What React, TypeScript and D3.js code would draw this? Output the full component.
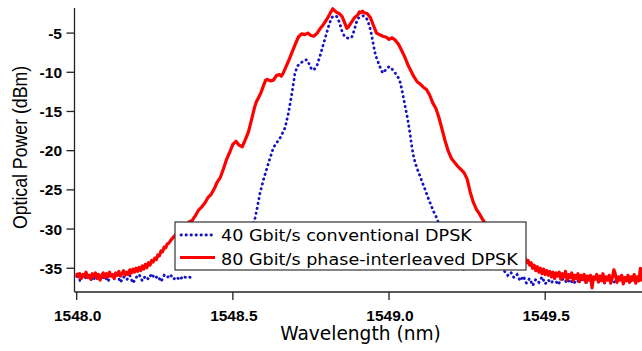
import React from "react";
import * as d3 from "d3";

// ---- data (wavelength nm, optical power dBm) ----
const xTickValues = [1548.0, 1548.5, 1549.0, 1549.5];
const xTickLabels = ["1548.0", "1548.5", "1549.0", "1549.5"];
const yTickValues = [-35, -30, -25, -20, -15, -10, -5];
const yTickLabels = ["-35", "-30", "-25", "-20", "-15", "-10", "-5"];

const legendLabels = ["40 Gbit/s conventional DPSK", "80 Gbit/s phase-interleaved DPSK"];

// 40 Gbit/s conventional DPSK (null = no data)
const series40G: [number, number | null][] = [
  [1548.00, -36.0], [1548.01, -36.5], [1548.02, -35.8], [1548.03, -36.3], [1548.04, -35.9],
  [1548.05, -36.6], [1548.06, -36.1], [1548.07, -35.7], [1548.08, -36.4], [1548.09, -36.0],
  [1548.10, -36.7], [1548.11, -35.9], [1548.12, -36.3], [1548.13, -35.8], [1548.14, -36.8],
  [1548.15, -36.1], [1548.16, -36.5], [1548.17, -35.9], [1548.18, -36.9], [1548.19, -36.2],
  [1548.20, -35.8], [1548.21, -36.6], [1548.22, -36.0], [1548.23, -36.4], [1548.24, -35.7],
  [1548.25, -36.3], [1548.26, -36.0], [1548.27, -36.7], [1548.28, -35.9], [1548.29, -36.2],
  [1548.30, -35.8], [1548.31, -36.4], [1548.32, -36.1], [1548.33, -36.5], [1548.34, -36.0],
  [1548.35, -36.2], [1548.36, -36.1], [1548.37, -36.3],
  [1548.38, null],
  [1548.52, -34.0], [1548.54, -32.0], [1548.56, -30.0], [1548.571, -28.6], [1548.577, -27.5],
  [1548.587, -25.4], [1548.598, -23.7], [1548.614, -21.6], [1548.630, -19.6], [1548.640, -19.0],
  [1548.651, -18.4], [1548.667, -17.1], [1548.678, -15.2], [1548.689, -12.7], [1548.699, -10.1],
  [1548.707, -9.2], [1548.715, -8.9], [1548.727, -8.5], [1548.737, -8.4], [1548.745, -9.0],
  [1548.753, -9.7], [1548.761, -9.6], [1548.769, -9.2], [1548.777, -8.2], [1548.785, -7.1],
  [1548.793, -6.0], [1548.801, -4.9], [1548.809, -3.8], [1548.817, -3.0], [1548.825, -2.8],
  [1548.833, -2.9], [1548.841, -3.6], [1548.849, -4.7], [1548.857, -5.4], [1548.865, -5.6],
  [1548.873, -5.7], [1548.881, -5.5], [1548.889, -4.6], [1548.896, -3.6], [1548.902, -3.1],
  [1548.910, -2.9], [1548.917, -2.8], [1548.923, -2.9], [1548.929, -3.2], [1548.934, -3.7],
  [1548.940, -4.5], [1548.945, -5.4], [1548.950, -6.5], [1548.955, -7.5], [1548.961, -8.3],
  [1548.966, -8.8], [1548.973, -9.5], [1548.980, -10.1], [1548.987, -9.8], [1548.993, -9.5],
  [1549.000, -9.3], [1549.004, -9.3], [1549.012, -9.7], [1549.020, -10.1], [1549.030, -10.7],
  [1549.036, -11.3], [1549.041, -12.2], [1549.046, -13.2], [1549.052, -14.4], [1549.057, -15.4],
  [1549.062, -16.5], [1549.068, -18.0], [1549.073, -19.5], [1549.078, -20.6], [1549.084, -21.6],
  [1549.092, -22.5], [1549.100, -23.3], [1549.108, -24.2], [1549.116, -25.0], [1549.124, -25.9],
  [1549.132, -26.7], [1549.142, -27.7], [1549.153, -28.6], [1549.17, -30.5], [1549.19, -32.5],
  [1549.22, -34.5], [1549.25, -35.5],
  [1549.28, null],
  [1549.37, -35.4], [1549.38, -35.9], [1549.39, -35.5], [1549.40, -36.2], [1549.41, -35.8],
  [1549.42, -36.6], [1549.43, -36.0], [1549.44, -36.9], [1549.45, -36.3], [1549.46, -37.2],
  [1549.47, -36.4], [1549.48, -36.8], [1549.49, -36.1], [1549.50, -37.0], [1549.51, -36.5],
  [1549.52, -36.9], [1549.53, -36.2], [1549.54, -37.1], [1549.55, -36.6], [1549.56, -36.3],
  [1549.57, -36.9], [1549.58, -36.4], [1549.59, -37.0], [1549.60, -36.5], [1549.61, -36.8],
  [1549.62, -36.2], [1549.63, -36.9], [1549.64, -36.4], [1549.65, -36.7], [1549.66, -36.1],
  [1549.67, -36.8], [1549.68, -36.3], [1549.69, -36.9], [1549.70, -36.5], [1549.71, -36.2],
  [1549.72, -36.8], [1549.73, -36.4], [1549.74, -36.7], [1549.75, -36.1], [1549.76, -36.6],
  [1549.77, -36.3], [1549.78, -36.8], [1549.79, -36.2], [1549.80, -36.5], [1549.81, -36.3],
];

// 80 Gbit/s phase-interleaved DPSK
const series80G: [number, number][] = [
  [1548.000, -35.6], [1548.005, -36.1], [1548.010, -35.7], [1548.015, -36.3], [1548.020, -35.8],
  [1548.025, -36.0], [1548.030, -35.5], [1548.035, -36.2], [1548.040, -35.9], [1548.045, -36.4],
  [1548.050, -35.7], [1548.055, -36.0], [1548.060, -35.6], [1548.065, -36.3], [1548.070, -35.8],
  [1548.075, -36.5], [1548.080, -35.9], [1548.085, -35.6], [1548.090, -36.2], [1548.095, -35.7],
  [1548.100, -36.1], [1548.105, -35.5], [1548.110, -36.0], [1548.115, -35.8], [1548.120, -36.3],
  [1548.125, -35.6], [1548.130, -35.9], [1548.135, -35.4], [1548.140, -36.0], [1548.145, -35.7],
  [1548.150, -35.3], [1548.155, -35.9], [1548.160, -35.5], [1548.165, -35.8], [1548.170, -35.2],
  [1548.175, -35.6], [1548.180, -35.1], [1548.185, -35.5], [1548.190, -35.0], [1548.195, -35.4],
  [1548.200, -34.9], [1548.205, -35.3], [1548.210, -34.7], [1548.215, -35.1], [1548.220, -34.5],
  [1548.225, -34.9], [1548.230, -34.3], [1548.235, -34.6], [1548.240, -34.0], [1548.245, -34.2],
  [1548.250, -33.7], [1548.255, -33.9], [1548.260, -33.3], [1548.265, -33.4], [1548.270, -32.8],
  [1548.275, -32.9], [1548.280, -32.3], [1548.285, -32.4], [1548.290, -31.9], [1548.295, -31.8],
  [1548.300, -31.5],
  [1548.31, -31.0], [1548.32, -30.6], [1548.33, -30.3], [1548.34, -29.8], [1548.35, -29.5],
  [1548.36, -29.1], [1548.37, -28.9], [1548.38, -28.3], [1548.39, -27.6], [1548.40, -27.2],
  [1548.41, -26.7], [1548.42, -26.0], [1548.43, -25.6], [1548.44, -24.9], [1548.45, -24.0],
  [1548.46, -23.4], [1548.47, -22.3], [1548.48, -21.1], [1548.49, -20.2], [1548.50, -19.2],
  [1548.51, -18.8], [1548.52, -19.3], [1548.53, -19.5], [1548.54, -18.6], [1548.55, -17.6],
  [1548.56, -16.0], [1548.57, -14.4], [1548.575, -13.8], [1548.58, -13.4], [1548.59, -12.6],
  [1548.60, -11.5], [1548.605, -11.0], [1548.61, -10.9], [1548.62, -11.1], [1548.63, -11.0],
  [1548.64, -10.4], [1548.65, -10.3], [1548.655, -10.5], [1548.66, -10.2], [1548.67, -9.3],
  [1548.68, -8.4], [1548.69, -7.4], [1548.70, -6.4], [1548.71, -5.5], [1548.72, -5.1],
  [1548.73, -5.2], [1548.74, -5.0], [1548.75, -5.3], [1548.76, -5.4], [1548.77, -5.0],
  [1548.78, -4.4], [1548.79, -3.9], [1548.80, -3.3], [1548.81, -2.6], [1548.82, -1.9],
  [1548.825, -2.1], [1548.83, -2.3], [1548.84, -2.5], [1548.85, -2.9], [1548.86, -3.9],
  [1548.865, -4.4], [1548.87, -4.2], [1548.88, -3.6], [1548.89, -3.0], [1548.90, -2.7],
  [1548.905, -2.3], [1548.91, -2.4], [1548.915, -2.2], [1548.92, -2.4], [1548.93, -2.5],
  [1548.94, -3.0], [1548.95, -4.0], [1548.96, -5.0], [1548.97, -5.2], [1548.98, -5.4],
  [1548.99, -5.5], [1549.00, -5.8], [1549.01, -5.6], [1549.02, -5.9], [1549.03, -6.4],
  [1549.04, -7.2], [1549.05, -8.0], [1549.06, -9.0], [1549.07, -9.8], [1549.08, -10.6],
  [1549.09, -11.2], [1549.10, -11.5], [1549.11, -11.9], [1549.12, -12.2], [1549.13, -12.9],
  [1549.14, -13.9], [1549.15, -14.6], [1549.16, -15.8], [1549.17, -17.3], [1549.18, -18.8],
  [1549.19, -20.1], [1549.20, -21.0], [1549.21, -21.5], [1549.22, -22.0], [1549.23, -22.4],
  [1549.24, -22.8], [1549.25, -23.6], [1549.26, -25.3], [1549.27, -26.6], [1549.28, -27.5],
  [1549.29, -28.1], [1549.30, -28.8], [1549.31, -29.3], [1549.32, -29.9], [1549.33, -30.4],
  [1549.34, -30.9], [1549.35, -31.5], [1549.36, -31.9], [1549.37, -32.4], [1549.38, -32.8],
  [1549.39, -33.1], [1549.40, -33.4],
  [1549.405, -33.0], [1549.410, -33.5], [1549.415, -33.1], [1549.420, -33.7], [1549.425, -33.3],
  [1549.430, -33.9], [1549.435, -33.6], [1549.440, -34.3], [1549.445, -34.0], [1549.450, -34.6],
  [1549.455, -34.3], [1549.460, -35.0], [1549.465, -34.6], [1549.470, -35.3], [1549.475, -34.8],
  [1549.480, -35.5], [1549.485, -35.0], [1549.490, -35.7], [1549.495, -35.1], [1549.500, -35.8],
  [1549.505, -35.3], [1549.510, -35.9], [1549.515, -35.4], [1549.520, -36.1], [1549.525, -35.5],
  [1549.530, -36.3], [1549.535, -35.6], [1549.540, -36.0], [1549.545, -35.5], [1549.550, -36.4],
  [1549.555, -35.7], [1549.560, -36.1], [1549.565, -35.4], [1549.570, -36.5], [1549.575, -35.8],
  [1549.580, -36.2], [1549.585, -35.6], [1549.590, -36.6], [1549.595, -35.9], [1549.600, -36.3],
  [1549.605, -35.7], [1549.610, -36.7], [1549.615, -35.9], [1549.620, -36.4], [1549.625, -35.8],
  [1549.630, -36.8], [1549.635, -36.0], [1549.640, -36.5], [1549.645, -35.9], [1549.650, -37.5],
  [1549.655, -36.1], [1549.660, -36.4], [1549.665, -35.8], [1549.670, -36.7], [1549.675, -36.0],
  [1549.680, -36.6], [1549.685, -35.7], [1549.690, -36.8], [1549.695, -36.1], [1549.700, -36.5],
  [1549.705, -35.9], [1549.710, -36.9], [1549.715, -36.2], [1549.720, -35.2], [1549.725, -35.8],
  [1549.730, -36.8], [1549.735, -36.1], [1549.740, -36.5], [1549.745, -35.9], [1549.750, -37.0],
  [1549.755, -36.2], [1549.760, -36.6], [1549.765, -35.9], [1549.770, -36.8], [1549.775, -36.1],
  [1549.780, -36.5], [1549.785, -35.8], [1549.790, -36.9], [1549.795, -36.1], [1549.800, -36.6],
  [1549.805, -35.0], [1549.810, -36.7],
];

const W = 642;
const H = 351;
const PLOT = { left: 74.5, right: 642, top: 8, bottom: 292 };
const BLUE = "#1414c4";
const RED = "#ff0000";
const AXIS = "#222";

export default function App() {
  const x = d3.scaleLinear().domain([1547.993, 1549.81]).range([PLOT.left, PLOT.right]);
  const y = d3.scaleLinear().domain([-38.03, -1.8]).range([PLOT.bottom, PLOT.top]);

  const blueLine = d3
    .line<[number, number | null]>()
    .defined((d) => d[1] !== null)
    .x((d) => x(d[0]))
    .y((d) => y(d[1] as number));
  const redLine = d3
    .line<[number, number]>()
    .x((d) => x(d[0]))
    .y((d) => y(d[1]));

  const tickFont = { fontFamily: "'Liberation Sans', Arial, sans-serif", fontWeight: 700, fontSize: 15.5 };

  return (
    <svg
      width={W}
      height={H}
      style={{ position: "absolute", left: 0, top: 0, background: "#fff" }}
    >
      <defs>
        <clipPath id="plotclip">
          <rect x={PLOT.left} y={0} width={PLOT.right - PLOT.left} height={PLOT.bottom} />
        </clipPath>
      </defs>
      <rect x={0} y={0} width={W} height={H} fill="#fff" />

      <g clipPath="url(#plotclip)">
        <path
          d={blueLine(series40G) || ""}
          fill="none"
          stroke={BLUE}
          strokeWidth={2.8}
          strokeDasharray="0.4 4.6"
          strokeLinecap="round"
        />
        <path
          d={redLine(series80G) || ""}
          fill="none"
          stroke={RED}
          strokeWidth={3.2}
          strokeLinejoin="round"
        />
      </g>

      {/* axes */}
      <line x1={PLOT.left} x2={PLOT.left} y1={PLOT.top} y2={PLOT.bottom} stroke={AXIS} strokeWidth={1.3} />
      <line x1={PLOT.left} x2={PLOT.right} y1={PLOT.bottom} y2={PLOT.bottom} stroke={AXIS} strokeWidth={1.3} />

      {yTickValues.map((v, i) => (
        <g key={"yt" + i}>
          <line x1={PLOT.left - 8} x2={PLOT.left} y1={y(v)} y2={y(v)} stroke={AXIS} strokeWidth={1.3} />
          <text x={62} y={y(v) + 5.5} textAnchor="end" {...tickFont} fill="#000">
            {yTickLabels[i]}
          </text>
        </g>
      ))}

      {xTickValues.map((v, i) => (
        <g key={"xt" + i}>
          <line x1={x(v)} x2={x(v)} y1={PLOT.bottom} y2={PLOT.bottom + 8} stroke={AXIS} strokeWidth={1.3} />
          <text x={x(v) + 1} y={320.8} textAnchor="middle" {...tickFont} fill="#000">
            {xTickLabels[i]}
          </text>
        </g>
      ))}

      {/* axis titles */}
      <text
        x={360.5}
        y={339.5}
        textAnchor="middle"
        fontFamily="'DejaVu Sans', sans-serif"
        fontSize={18.6}
        fill="#000"
      >
        Wavelength (nm)
      </text>
      <g transform="translate(27.3,147.5) rotate(-90) scale(1,1.13)">
        <text
          x={0}
          y={0}
          textAnchor="middle"
          fontFamily="'Liberation Sans', Arial, sans-serif"
          fontSize={17.7}
          fill="#000"
        >
          Optical Power (dBm)
        </text>
      </g>

      {/* legend */}
      <g>
        <rect x={175} y={222} width={351} height={48} fill="#fff" stroke="#333" strokeWidth={1.2} />
        <line x1={181} x2={215} y1={235} y2={235} stroke={BLUE} strokeWidth={2.8} strokeDasharray="0.4 4.6" strokeLinecap="round" />
        <line x1={180} x2={215} y1={257.5} y2={257.5} stroke={RED} strokeWidth={3.2} />
        <g transform="translate(221,240.8) scale(1.1,1)">
          <text x={0} y={0} fontFamily="'DejaVu Sans', sans-serif" fontSize={16} fill="#000">
            {legendLabels[0]}
          </text>
        </g>
        <g transform="translate(221,264.5) scale(1.1,1)">
          <text x={0} y={0} fontFamily="'DejaVu Sans', sans-serif" fontSize={16} fill="#000">
            {legendLabels[1]}
          </text>
        </g>
      </g>
    </svg>
  );
}
